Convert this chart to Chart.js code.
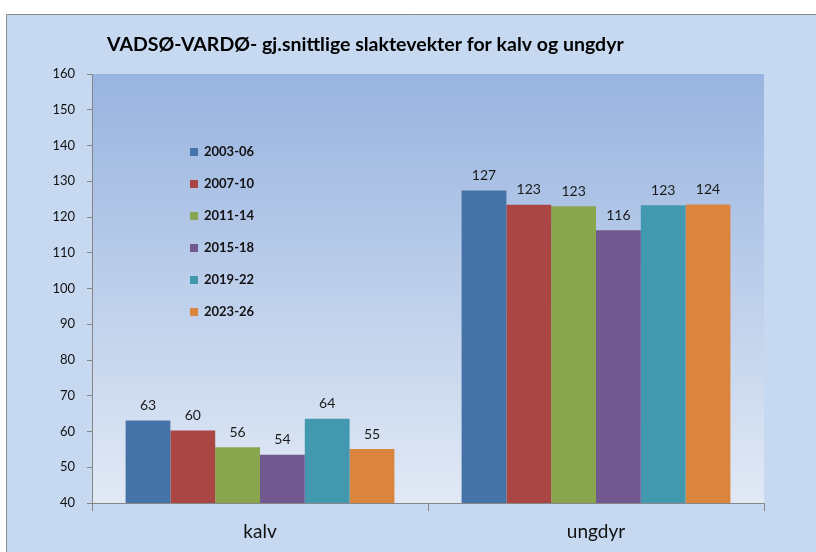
<!DOCTYPE html>
<html>
<head>
<meta charset="utf-8">
<script src="https://cdn.jsdelivr.net/npm/chart.js@4/dist/chart.umd.min.js"></script>
<style>
  html, body { margin: 0; padding: 0; background: #fff; }
  #wrap { width: 816px; height: 552px; }
</style>
</head>
<body>
<div id="wrap"><canvas id="c" width="816" height="552"></canvas></div>
<script>
// ── Data ──────────────────────────────────────────────────
const categories = ['kalv', 'ungdyr'];
const periods    = ['2003-06', '2007-10', '2011-14', '2015-18', '2019-22', '2023-26'];
const colors     = ['#4572a7', '#aa4643', '#89a54e', '#71588f', '#4198af', '#db843d'];
const kalv       = [63.1, 60.3, 55.6, 53.5, 63.6, 55.1];
const ungdyr     = [127.4, 123.4, 123.0, 116.3, 123.3, 123.5];
const yTicks     = [40, 50, 60, 70, 80, 90, 100, 110, 120, 130, 140, 150, 160];
const title      = 'VADSØ-VARDØ- gj.snittlige slaktevekter for kalv og ungdyr';

const FONT = 'Lato, "Liberation Sans", sans-serif';

// ── Plugins ───────────────────────────────────────────────
const backdrop = {
  id: 'backdrop',
  beforeDraw(chart) {
    const { ctx, chartArea: a } = chart;
    ctx.save();
    // outer frame
    ctx.fillStyle = '#c6d9f1';
    ctx.fillRect(6, 14, 816 - 6, 552 - 14);
    ctx.strokeStyle = '#8a8a8a';
    ctx.lineWidth = 1;
    ctx.beginPath();
    ctx.moveTo(6.5, 552); ctx.lineTo(6.5, 14.5); ctx.lineTo(816, 14.5);
    ctx.stroke();
    // plot gradient
    const g = ctx.createLinearGradient(0, a.top, 0, a.bottom);
    g.addColorStop(0, '#98b4e0');
    g.addColorStop(1, '#e1e9f5');
    ctx.fillStyle = g;
    ctx.fillRect(a.left, a.top, a.right - a.left, a.bottom - a.top);
    // title
    ctx.fillStyle = '#000';
    ctx.font = 'bold 19.5px ' + FONT;
    ctx.textBaseline = 'alphabetic';
    ctx.fillText(title, 107, 51);
    ctx.restore();
  }
};

const labelsAndLegend = {
  id: 'labelsAndLegend',
  afterDatasetsDraw(chart) {
    const { ctx } = chart;
    ctx.save();
    ctx.fillStyle = '#1a1a1a';
    ctx.font = '14px ' + FONT;
    ctx.textAlign = 'center';
    ctx.textBaseline = 'bottom';
    chart.data.datasets.forEach((ds, i) => {
      chart.getDatasetMeta(i).data.forEach((bar, j) => {
        ctx.fillText(Math.round(ds.data[j]), bar.x, bar.y - 8);
      });
    });
    // legend inside plot
    ctx.textAlign = 'left';
    ctx.textBaseline = 'middle';
    ctx.font = 'bold 13px ' + FONT;
    chart.data.datasets.forEach((ds, i) => {
      const y = 152 + i * 32;
      ctx.fillStyle = ds.backgroundColor;
      ctx.fillRect(190, y - 4, 8, 8);
      ctx.fillStyle = '#111';
      ctx.fillText(ds.label, 204, y);
    });
    ctx.restore();
  }
};

// ── Chart ─────────────────────────────────────────────────
new Chart(document.getElementById('c'), {
  type: 'bar',
  data: {
    labels: categories,
    datasets: periods.map((p, i) => ({
      label: p,
      data: [kalv[i], ungdyr[i]],
      backgroundColor: colors[i],
      borderWidth: 0,
      barPercentage: 1,
      categoryPercentage: 0.8,
    }))
  },
  options: {
    responsive: false,
    animation: false,
    layout: { padding: { left: 0, top: 74, right: 52, bottom: 0 } },
    plugins: { legend: { display: false }, tooltip: { enabled: false } },
    scales: {
      x: {
        afterFit: s => { s.height = 49; },
        grid: { offset: true, drawOnChartArea: false, tickLength: 8, color: '#868686' },
        border: { color: '#868686' },
        ticks: { color: '#111', font: { family: FONT, size: 19 }, padding: 9 }
      },
      y: {
        min: 40, max: 160,
        afterFit: s => { s.width = 92; },
        afterBuildTicks: s => { s.ticks = yTicks.map(v => ({ value: v })); },
        grid: { drawOnChartArea: false, tickLength: 5, color: '#868686' },
        border: { color: '#868686' },
        ticks: { color: '#111', font: { family: FONT, size: 13 }, padding: 12 }
      }
    }
  },
  plugins: [backdrop, labelsAndLegend]
});
</script>
</body>
</html>
